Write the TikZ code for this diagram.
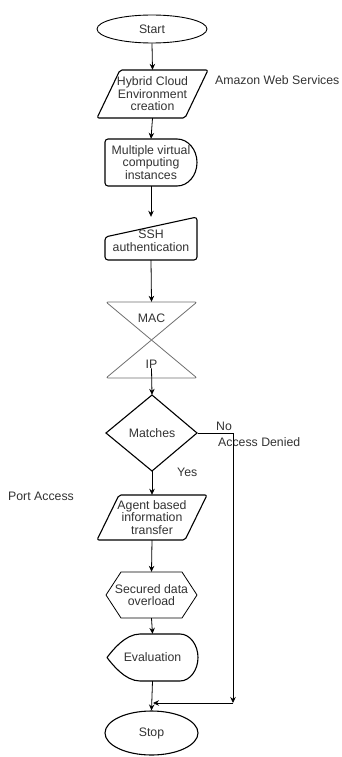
\documentclass[tikz,border=0pt]{standalone}
\usepackage{fontspec}
\setmainfont{Liberation Sans}
\usetikzlibrary{arrows.meta,shapes.geometric}
\definecolor{txt}{HTML}{333333}
\definecolor{colgray}{HTML}{707070}
\newcommand\lab{\fontsize{12.3}{12.5}\selectfont}
\tikzset{
  shapeline/.style={draw=black, line width=1.1pt, line join=round},
  lbl/.style={inner sep=0pt, align=center, font=\lab, text=txt},
  holder/.style={inner sep=0pt, align=center, font=\lab, text=txt, draw=none},
  conn/.style={draw=black, line width=0.8pt, -{Stealth[length=6pt,width=5.5pt]}},
}
\begin{document}
\begin{tikzpicture}[x=1pt,y=-1pt]
\fill[white] (0,0) rectangle (342,757);
\useasboundingbox (0,0) rectangle (342,757);

% Start
\node[ellipse, shapeline, line width=0.9pt, lbl, minimum width=110pt, minimum height=28pt] (start) at (152,29) {Start};

% Hybrid cloud parallelogram
\draw[shapeline, rounded corners=2pt] (120,70) -- (208,70) -- (185,118) -- (97,118) -- cycle;
\node[holder, minimum width=111pt, minimum height=48pt] (hybrid) at (152.5,94) {Hybrid Cloud\\Environment\\creation};

% Multiple virtual computing instances (delay)
\draw[shapeline, rounded corners=3pt] (177,139) -- (105,139) -- (105,186) -- (177,186);
\draw[shapeline] (177,186) .. controls (188,186) and (197,175.5) .. (197,162.5)
  .. controls (197,149.5) and (188,139) .. (177,139);
\node[holder, minimum width=92pt, minimum height=47pt] (multi) at (151,162.5) {Multiple virtual\\computing\\instances};

% SSH authentication (manual input)
\draw[shapeline, rounded corners=3pt] (105,237) -- (197,217) -- (197,260) -- (105,260) -- cycle;
\node[holder, minimum width=92pt, minimum height=43pt] (ssh) at (151,238.5) {};
\node[lbl] (sshtext) at (151,241) {SSH\\authentication};

% Collate MAC / IP
\draw[draw=colgray, line width=0.8pt, rounded corners=2pt, line join=round] (106,302) -- (197,302) -- (106,378) -- (197,378) -- cycle;
\node[holder, minimum width=91pt, minimum height=76pt] (collate) at (151.5,340) {};
\node[lbl] (mac) at (151.5,318) {MAC};
\node[lbl] (ip) at (151.5,364) {IP};

% Decision
\draw[shapeline, line join=miter] (106,433) -- (152,395) -- (197,433) -- (152,471) -- cycle;
\node[holder, minimum width=91pt, minimum height=76pt] (match) at (152,433) {Matches};

% Agent based information transfer
\draw[shapeline, rounded corners=2pt] (119,495) -- (207,495) -- (185,540) -- (97,540) -- cycle;
\node[holder, minimum width=110pt, minimum height=45pt] (agent) at (152,517.5) {Agent based\\information\\transfer};

% Secured data overload (hexagon)
\draw[draw=black, line width=0.8pt, line join=miter] (106,595) -- (121,572) -- (182,572) -- (197,595) -- (182,618) -- (121,618) -- cycle;
\node[holder, minimum width=91pt, minimum height=46pt] (hex) at (151.5,595) {Secured data\\overload};

% Evaluation (display)
\draw[shapeline] (140,634) -- (180,634) .. controls (190,634) and (198,645) .. (198,657.5)
  .. controls (198,670) and (190,681) .. (180,681) -- (140,681)
  .. controls (125,681) and (112,664) .. (107,657.5)
  .. controls (112,651) and (125,634) .. (140,634) -- cycle;
\node[holder, minimum width=91pt, minimum height=47pt] (eval) at (152.5,657.5) {Evaluation};

% Stop
\node[ellipse, shapeline, lbl, minimum width=93pt, minimum height=44pt] (stop) at (151.5,733) {Stop};

% Side labels
\node[lbl, anchor=west] (aws) at (215,80) {Amazon Web Services};
\node[lbl, anchor=west] (no) at (216,426) {No};
\node[lbl, anchor=west] (denied) at (218,442) {Access Denied};
\node[lbl, anchor=west] (yes) at (177,472) {Yes};
\node[lbl, anchor=west] (port) at (8,496) {Port Access};

% Connectors
\draw[conn] (start.south) -- (hybrid.north);
\draw[conn] (hybrid.south) -- (multi.north);
\draw[conn] (multi.south) -- (ssh.north);
\draw[conn] (ssh.south) -- (collate.north);
\draw[conn] (ip.south) -- (match.north);
\draw[conn] (match.south) -- (agent.north);
\draw[conn] (agent.south) -- (hex.north);
\draw[conn] (hex.south) -- (eval.north);
\draw[conn] (eval.south) -- (stop.north);

\coordinate (nr) at (233,433);
\coordinate (nb) at (233,703);
\coordinate (ne) at (153,703);
\draw[conn] (match.east) -- (nr) -- (nb);
\draw[conn] (nb) -- (ne);
\end{tikzpicture}
\end{document}
